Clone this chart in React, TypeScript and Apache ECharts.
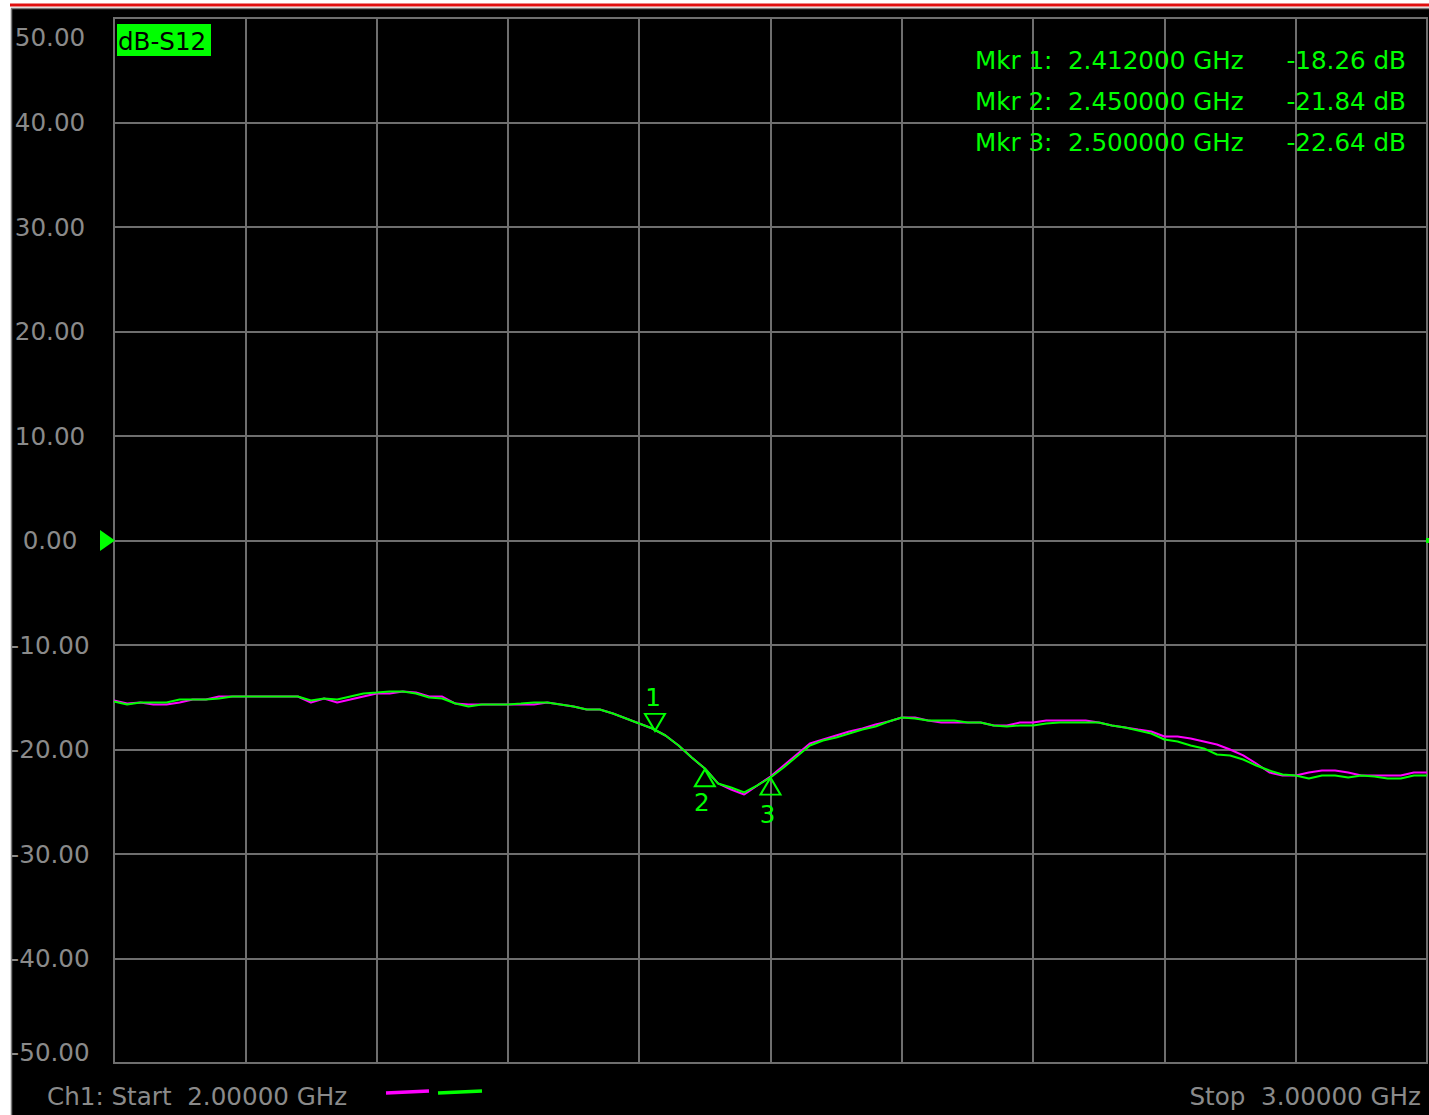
import React, { useEffect, useRef } from "react";
import * as echarts from "echarts";

// Sweep frequencies (GHz)
const freqs = [
  2.0, 2.01, 2.02, 2.03, 2.04, 2.05, 2.06, 2.07, 2.08, 2.09,
  2.1, 2.11, 2.12, 2.13, 2.14, 2.15, 2.16, 2.17, 2.18, 2.19,
  2.2, 2.21, 2.22, 2.23, 2.24, 2.25, 2.26, 2.27, 2.28, 2.29,
  2.3, 2.31, 2.32, 2.33, 2.34, 2.35, 2.36, 2.37, 2.38, 2.39,
  2.4, 2.41, 2.42, 2.43, 2.44, 2.45, 2.46, 2.47, 2.48, 2.49,
  2.5, 2.51, 2.52, 2.53, 2.54, 2.55, 2.56, 2.57, 2.58, 2.59,
  2.6, 2.61, 2.62, 2.63, 2.64, 2.65, 2.66, 2.67, 2.68, 2.69,
  2.7, 2.71, 2.72, 2.73, 2.74, 2.75, 2.76, 2.77, 2.78, 2.79,
  2.8, 2.81, 2.82, 2.83, 2.84, 2.85, 2.86, 2.87, 2.88, 2.89,
  2.9, 2.91, 2.92, 2.93, 2.94, 2.95, 2.96, 2.97, 2.98, 2.99,
  3.0,
];

// dB-S12, memory trace (magenta)
const s12Memory = [
  -15.31, -15.6, -15.5, -15.69, -15.69, -15.5, -15.22, -15.22, -14.93, -14.93,
  -14.93, -14.93, -14.93, -14.93, -14.93, -15.5, -15.12, -15.5, -15.22, -14.93,
  -14.64, -14.64, -14.45, -14.55, -14.93, -14.93, -15.6, -15.69, -15.69, -15.69,
  -15.69, -15.69, -15.69, -15.5, -15.69, -15.89, -16.17, -16.17, -16.56, -17.03,
  -17.51, -17.99, -18.66, -19.62, -20.77, -21.82, -23.25, -23.83, -24.31, -23.44,
  -22.58, -21.53, -20.48, -19.43, -19.04, -18.66, -18.28, -17.99, -17.61, -17.32,
  -16.94, -16.94, -17.22, -17.42, -17.42, -17.42, -17.42, -17.7, -17.7, -17.42,
  -17.42, -17.22, -17.22, -17.22, -17.22, -17.42, -17.7, -17.89, -18.09, -18.28,
  -18.76, -18.76, -18.95, -19.23, -19.52, -20.0, -20.57, -21.34, -22.2, -22.49,
  -22.49, -22.2, -22.01, -22.01, -22.2, -22.49, -22.49, -22.49, -22.49, -22.2,
  -22.2,
];

// dB-S12, live trace (green)
const s12Live = [
  -15.41, -15.69, -15.5, -15.5, -15.5, -15.22, -15.22, -15.22, -15.12, -14.93,
  -14.93, -14.93, -14.93, -14.93, -14.93, -15.31, -15.12, -15.22, -14.93, -14.64,
  -14.55, -14.45, -14.45, -14.64, -15.02, -15.12, -15.6, -15.89, -15.69, -15.69,
  -15.69, -15.6, -15.5, -15.5, -15.69, -15.89, -16.17, -16.17, -16.56, -17.03,
  -17.51, -17.99, -18.66, -19.62, -20.77, -21.82, -23.25, -23.64, -24.11, -23.44,
  -22.68, -21.72, -20.67, -19.62, -19.14, -18.85, -18.47, -18.09, -17.8, -17.32,
  -16.94, -17.03, -17.22, -17.22, -17.22, -17.42, -17.42, -17.7, -17.8, -17.7,
  -17.7, -17.51, -17.42, -17.42, -17.42, -17.42, -17.7, -17.89, -18.18, -18.47,
  -19.04, -19.23, -19.62, -19.9, -20.48, -20.57, -20.96, -21.53, -22.01, -22.39,
  -22.49, -22.78, -22.49, -22.49, -22.68, -22.49, -22.58, -22.78, -22.78, -22.49,
  -22.49,
];

const yTicks = [50, 40, 30, 20, 10, 0, -10, -20, -30, -40, -50];
const yTickLabels = ["50.00", "40.00", "30.00", "20.00", "10.00", "0.00", "-10.00", "-20.00", "-30.00", "-40.00", "-50.00"];

const markerIds = ["1", "2", "3"];
const markerFreqs = [2.412, 2.45, 2.5];
const markerValues = [-18.26, -21.84, -22.64];
const markerFreqTexts = ["2.412000 GHz", "2.450000 GHz", "2.500000 GHz"];
const markerValueTexts = ["-18.26 dB", "-21.84 dB", "-22.64 dB"];

const traceTitle = "dB-S12";
const startText = "Ch1: Start  2.00000 GHz";
const stopText = "Stop  3.00000 GHz";

const GREEN = "#00ff00";
const MAGENTA = "#ff00ff";
const GRID = "#6e6e6e";
const LABEL = "#8a8a8a";
const FONT = "DejaVu Sans";
const FS = 24.6;

export default function App() {
  const ref = useRef<HTMLDivElement>(null);
  useEffect(() => {
    if (!ref.current) return;
    const chart = echarts.init(ref.current, undefined, { renderer: "svg" });

    const liveData = freqs.map((f, i) => [f, s12Live[i]]);
    const memData = freqs.map((f, i) => [f, s12Memory[i]]);

    const markerRows: any[] = [];
    markerIds.forEach((id, i) => {
      const y = 60 + i * 41;
      markerRows.push({
        type: "text",
        x: 975,
        y,
        z: 100,
        style: {
          text: `Mkr ${id}:  ${markerFreqTexts[i]}`,
          fill: GREEN,
          font: `${FS}px '${FONT}'`,
          textVerticalAlign: "middle",
          textAlign: "left",
        },
      });
      markerRows.push({
        type: "text",
        x: 1406,
        y,
        z: 100,
        style: {
          text: markerValueTexts[i],
          fill: GREEN,
          font: `${FS}px '${FONT}'`,
          textVerticalAlign: "middle",
          textAlign: "right",
        },
      });
    });

    const labelStyle = { color: LABEL, fontSize: FS, fontFamily: FONT };

    const option: any = {
      animation: false,
      backgroundColor: "#000000",
      grid: {
        left: 114,
        top: 18,
        right: 2,
        bottom: 52,
        show: true,
        borderColor: GRID,
        borderWidth: 2,
        backgroundColor: "#000000",
      },
      xAxis: {
        type: "value",
        min: 2,
        max: 3,
        interval: 0.1,
        axisLine: { show: false },
        axisTick: { show: false },
        axisLabel: { show: false },
        splitLine: { show: true, lineStyle: { color: GRID, width: 2 } },
      },
      yAxis: {
        type: "value",
        min: -50,
        max: 50,
        interval: 10,
        axisLine: { show: false },
        axisTick: { show: false },
        splitLine: { show: true, lineStyle: { color: GRID, width: 2 } },
        axisLabel: {
          show: true,
          align: "center",
          margin: 64,
          ...labelStyle,
          formatter: (v: number) => {
            const i = yTicks.indexOf(Math.round(v));
            const t = i >= 0 ? yTickLabels[i] : String(v);
            if (Math.round(v) === 50) return `{top|${t}}`;
            if (Math.round(v) === -50) return `{bot|${t}}`;
            return t;
          },
          rich: {
            top: { ...labelStyle, padding: [38, 0, 0, 0] },
            bot: { ...labelStyle, padding: [0, 0, 22, 0] },
          },
        },
      },
      series: [
        {
          type: "line",
          name: "Memory",
          data: memData,
          showSymbol: false,
          symbol: "none",
          lineStyle: { color: MAGENTA, width: 2 },
          z: 3,
          markPoint: {
            silent: true,
            symbol: "circle",
            symbolSize: 2,
            itemStyle: { color: "rgba(0,0,0,0)" },
            label: {
              show: true,
              position: "inside",
              color: GREEN,
              fontSize: FS,
              fontFamily: FONT,
              formatter: (p: any) => p.name,
            },
            data: markerIds.map((id, i) => ({
              name: id,
              coord: [markerFreqs[i], markerValues[i]],
              label: { offset: i === 0 ? [-2, -34] : i === 1 ? [-3, 34] : [-3, 37] },
            })),
          },
        },
        {
          type: "line",
          name: "Live",
          data: liveData,
          showSymbol: false,
          symbol: "none",
          lineStyle: { color: GREEN, width: 2 },
          z: 4,
          markPoint: {
            silent: true,
            symbol: "triangle",
            symbolSize: [20, 17],
            itemStyle: { color: "rgba(0,0,0,0)", borderColor: GREEN, borderWidth: 2 },
            label: { show: false },
            data: markerIds.map((id, i) => ({
              name: "m" + id,
              coord: [markerFreqs[i], markerValues[i]],
              symbolRotate: i === 0 ? 180 : 0,
              symbolOffset: [0, i === 0 ? -9 : 9],
            })),
          },
        },
      ],
      graphic: [
        { type: "rect", z: 100, shape: { x: 0, y: 0, width: 11, height: 1115 }, style: { fill: "#ffffff" } },
        { type: "rect", z: 100, shape: { x: 0, y: 0, width: 1429, height: 8 }, style: { fill: "#ffffff" } },
        { type: "rect", z: 101, shape: { x: 10, y: 3.5, width: 1419, height: 3 }, style: { fill: "#e01010" } },
        { type: "line", z: 101, shape: { x1: 11.5, y1: 8.5, x2: 11.5, y2: 1115 }, style: { stroke: "#7a7a7a", lineWidth: 1.5 } },
        { type: "line", z: 101, shape: { x1: 11, y1: 8.5, x2: 1429, y2: 8.5 }, style: { stroke: "#7a7a7a", lineWidth: 1.5 } },
        // trace title box
        { type: "rect", z: 100, shape: { x: 117, y: 24, width: 94, height: 32 }, style: { fill: GREEN } },
        {
          type: "text",
          z: 101,
          x: 118,
          y: 41,
          style: { text: traceTitle, fill: "#000000", font: `${FS}px '${FONT}'`, textVerticalAlign: "middle" },
        },
        // reference level arrow
        {
          type: "polygon",
          z: 100,
          shape: { points: [[100, 530], [115, 540.5], [100, 551]] },
          style: { fill: GREEN },
        },
        { type: "rect", z: 100, shape: { x: 1426, y: 538, width: 3, height: 5 }, style: { fill: GREEN } },
        ...markerRows,
        // footer
        {
          type: "text",
          z: 100,
          x: 47,
          y: 1096,
          style: { text: startText, fill: LABEL, font: `${FS}px '${FONT}'`, textVerticalAlign: "middle" },
        },
        {
          type: "text",
          z: 100,
          x: 1421,
          y: 1096,
          style: { text: stopText, fill: LABEL, font: `${FS}px '${FONT}'`, textVerticalAlign: "middle", textAlign: "right" },
        },
        { type: "line", z: 100, shape: { x1: 386, y1: 1093, x2: 429, y2: 1091 }, style: { stroke: MAGENTA, lineWidth: 3.5 } },
        { type: "line", z: 100, shape: { x1: 438, y1: 1093, x2: 482, y2: 1091 }, style: { stroke: GREEN, lineWidth: 3.5 } },
      ],
    };

    chart.setOption(option);
    return () => chart.dispose();
  }, []);

  return (
    <div
      ref={ref}
      style={{ position: "fixed", left: 0, top: 0, width: 1429, height: 1115 }}
    />
  );
}
